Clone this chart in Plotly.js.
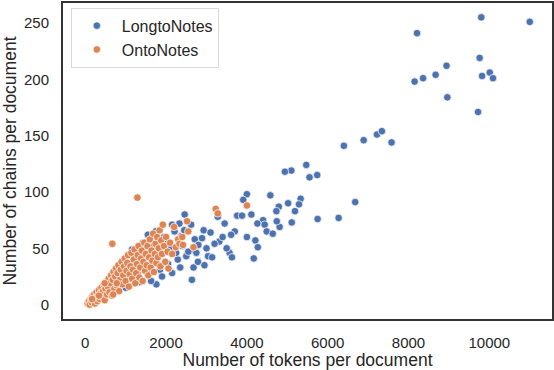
<!DOCTYPE html>
<html>
<head>
<meta charset="utf-8">
<script src="https://cdn.plot.ly/plotly-3.0.1.min.js"></script>
<style>
  html, body { margin: 0; padding: 0; background: #fff; }
  #chart { width: 554px; height: 370px; }
</style>
</head>
<body>
<div id="chart"></div>
<script>
// LongtoNotes: tokens / chains per document
const longTokens = [
  9800, 11000, 8210, 9760, 8940, 8670, 8360, 8150, 9820, 10010, 10090, 8960, 9720,
  6400, 6890, 7220, 7340, 7580, 5470, 5100, 4940, 5550, 5740, 6680,
  4000, 4580, 3910, 5330, 4790, 5020, 5290, 5190, 4730, 3280, 3760, 3880, 4110,
  3450, 4400, 4260, 4440, 4810, 4740, 5110, 5750, 6270, 3700, 3610, 4490, 4640,
  4000, 4210, 4270, 3320, 3200, 3570, 3630, 4170, 3040, 3140, 2930, 2890, 2710,
  2660, 2640, 2460, 2620, 2680, 2500, 2790, 1760, 2290, 2130, 2380, 2210, 2000,
  2330, 1550, 1630, 1390, 1220, 1060, 1550, 1740, 1430, 1160,
  200, 350, 500, 650, 800, 950, 1100, 1300, 700, 900, 1050, 1250, 1450, 1650,
  1850, 2050, 2150, 2250, 2400, 2550, 2800, 3000, 2950, 2350, 1900, 450, 600,
  1000, 1350, 1700, 1950, 2150, 2450, 2750, 3100, 3400, 3500
];
const longChains = [
  255, 251, 241, 219, 212, 204, 201, 198, 203, 206, 201, 184, 171,
  141, 146, 151, 154, 144, 124, 119, 118, 113, 115, 91,
  98, 97, 93, 94, 87, 90, 89, 83, 83, 78, 79, 79, 80,
  72, 75, 72, 71, 69, 74, 73, 76, 77, 65, 62, 65, 63,
  60, 57, 51, 56, 54, 46, 42, 41, 43, 42, 66, 59, 58,
  49, 22, 80, 71, 33, 43, 38, 18, 40, 50, 61, 65, 58,
  72, 28, 21, 46, 36, 30, 62, 65, 55, 49,
  3, 7, 11, 14, 17, 22, 26, 27, 24, 30, 36, 42, 36, 40,
  31, 36, 28, 46, 52, 47, 53, 50, 35, 33, 25, 16, 20,
  15, 20, 52, 60, 71, 66, 46, 64, 60, 50
];

// OntoNotes: tokens / chains per document
const ontoTokens = [
  60, 90, 110, 140, 160, 175, 200, 220, 240, 260, 280, 300, 320, 340, 360, 380,
  400, 420, 440, 460, 480, 500, 520, 540, 560, 580, 600, 620, 640, 660, 680, 700,
  720, 740, 760, 780, 800, 820, 840, 860, 880, 900, 920, 940, 960, 980, 1000, 1020,
  1040, 1060, 1080, 1100, 1120, 1140, 1160, 1180, 1200, 1220, 1240, 1260, 1280, 1300,
  1320, 1340, 1360, 1380, 1400, 1420, 1440, 1460, 1480, 1500, 1520, 1540, 1560, 1580,
  1600, 1620, 1640, 1660, 1680, 1700, 1720, 1740, 1760, 1780, 1800, 1820, 1840, 1860,
  1880, 1900, 1920, 1950, 1980, 2000, 2040, 2060, 2100, 2150, 2200, 2240, 2300, 2330,
  2400, 2420, 2520, 2550, 2680, 3230, 3280, 4000, 1290, 670, 480, 340, 170, 690, 780
];
const ontoChains = [
  1, 3, 0, 5, 2, 7, 4, 9, 1, 6, 11, 3, 8, 13, 5, 10,
  15, 7, 12, 18, 4, 14, 20, 9, 16, 23, 11, 19, 26, 8, 22, 29,
  14, 25, 32, 17, 28, 35, 12, 22, 31, 38, 18, 26, 34, 41, 21, 30,
  37, 44, 16, 27, 34, 46, 23, 31, 40, 49, 19, 28, 36, 44,
  52, 24, 33, 41, 48, 21, 38, 55, 30, 45, 35, 52, 26, 42,
  58, 33, 48, 39, 63, 29, 45, 54, 37, 60, 42, 50, 66, 34,
  57, 45, 71, 52, 38, 60, 47, 32, 55, 45, 69, 51, 58, 54,
  60, 53, 74, 65, 51, 85, 81, 88, 95, 54, 19, 8, 5, 9, 19
];

const textColor = "#262626";
const fontFamily = "Liberation Sans, Arial, sans-serif";

const traceLong = {
  type: "scatter",
  mode: "markers",
  name: "LongtoNotes",
  x: longTokens,
  y: longChains,
  marker: { color: "#4c72b0", size: 7.5, line: { color: "#ffffff", width: 0.7 } },
};

const traceOnto = {
  type: "scatter",
  mode: "markers",
  name: "OntoNotes",
  x: ontoTokens,
  y: ontoChains,
  marker: { color: "#dd8452", size: 7.5, line: { color: "#ffffff", width: 0.7 } },
};

const layout = {
  width: 554,
  height: 370,
  margin: { l: 63, r: 2, t: 3, b: 51 },
  paper_bgcolor: "#ffffff",
  plot_bgcolor: "#ffffff",
  font: { family: fontFamily, color: textColor, size: 15 },
  showlegend: true,
  legend: {
    x: 0.016,
    y: 0.985,
    xanchor: "left",
    yanchor: "top",
    bgcolor: "#ffffff",
    bordercolor: "#d9d9d9",
    borderwidth: 1,
    itemwidth: 40,
    font: { size: 16, color: textColor },
  },
  xaxis: {
    range: [-550, 11550],
    tickvals: [0, 2000, 4000, 6000, 8000, 10000],
    ticktext: ["0", "2000", "4000", "6000", "8000", "10000"],
    showgrid: false,
    zeroline: false,
    showline: true,
    mirror: true,
    linecolor: "#333333",
    linewidth: 2,
    ticks: "",
    ticklabelstandoff: 9,
    tickfont: { size: 15 },
    title: { text: "Number of tokens per document", font: { size: 17.5 }, standoff: 15 },
  },
  yaxis: {
    range: [-12.75, 267.75],
    tickvals: [0, 50, 100, 150, 200, 250],
    showgrid: false,
    zeroline: false,
    showline: true,
    mirror: true,
    linecolor: "#333333",
    linewidth: 2,
    ticks: "",
    ticklabelstandoff: 9,
    tickfont: { size: 15 },
    title: { text: "Number of chains per document", font: { size: 17.5 }, standoff: 8 },
  },
};

Plotly.newPlot("chart", [traceLong, traceOnto], layout, { displayModeBar: false, staticPlot: true });
</script>
</body>
</html>
